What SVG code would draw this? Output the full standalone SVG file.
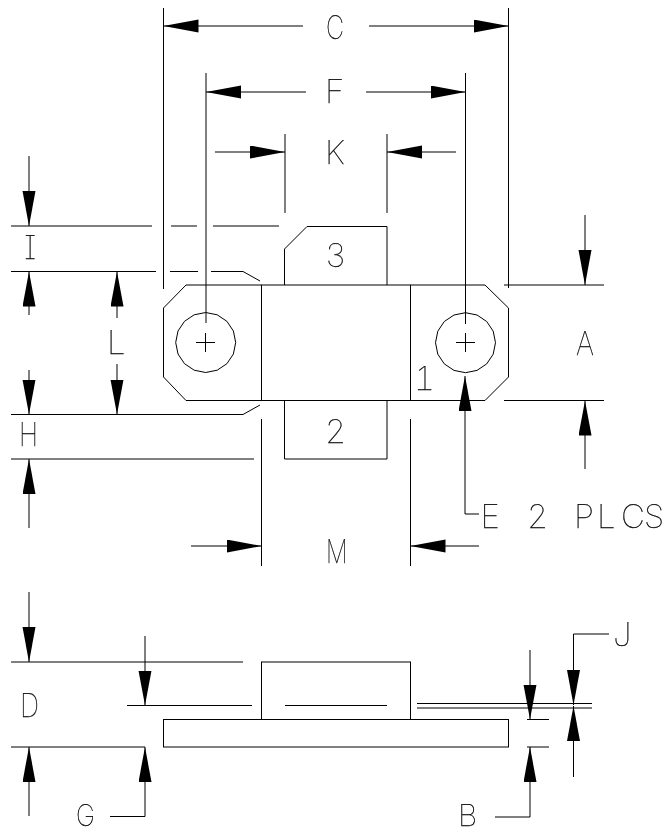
<svg xmlns="http://www.w3.org/2000/svg" width="670" height="833" viewBox="0 0 670 833">
<style>
.s{fill:none;stroke:#000;stroke-width:1}
.d{fill:none;stroke:#000;stroke-width:1;marker-end:url(#a)}
text{font-family:"Inter","Open Sans","Liberation Sans",sans-serif;font-weight:100;font-size:33px;fill:#000;stroke:#000;stroke-width:.25;font-feature-settings:"cv08","tnum"}
.t{font-size:30px}
</style>
<defs>
<filter id="g" x="0" y="0" width="670" height="833" filterUnits="userSpaceOnUse" color-interpolation-filters="sRGB"><feOffset dx="0" dy="0"/></filter>
<marker id="a" markerUnits="userSpaceOnUse" markerWidth="36" markerHeight="14" refX="35" refY="6.5" orient="auto"><path d="M0 0L35 6.5L0 13Z" fill="#000"/></marker>
<polygon id="hole" points="30,0 27.7,11.5 21.2,21.2 11.5,27.7 0,30 -11.5,27.7 -21.2,21.2 -27.7,11.5 -30,0 -27.7,-11.5 -21.2,-21.2 -11.5,-27.7 0,-30 11.5,-27.7 21.2,-21.2 27.7,-11.5" class="s"/>
</defs>
<rect width="670" height="833" fill="#fff"/>
<g id="plan-body">
<path class="s" d="M261.5 285H186L163.5 308V377L186 400.5H261.5Z"/>
<path class="s" d="M410.5 285H485L508.5 308V377L485 400.5H410.5Z"/>
<rect class="s" x="261.5" y="285" width="149" height="115.5"/>
<path class="s" d="M284.5 285V249L307 226.5H387V285"/>
<path class="s" d="M284.5 400.5V459H387V400.5"/>
</g>
<g id="hole-left"><use href="#hole" x="205.7" y="342.5"/><path class="s" d="M196 342.5H215M205.5 333V352"/></g>
<g id="hole-right"><use href="#hole" x="465.5" y="342.7"/><path class="s" d="M456 342.5H475M465.5 333V352"/></g>
<g id="side-body">
<rect class="s" x="261.5" y="662" width="149" height="57.5"/>
<rect class="s" x="163.5" y="719.5" width="345" height="27.5"/>
<path class="s" d="M285 705.5H387"/>
</g>
<g id="connectors">
<path class="s" d="M163.5 8V289M508.5 8V288M206 73V323M465.5 73V324M285 134V213M387 134V213"/>
<path class="s" d="M11 226H152M171 226H197M213 226H279M11 271.5H156M170 271.5H198M211 271.5H243L260 281M11 414.5H243L260 405M11 459H254"/>
<path class="s" d="M261.5 419V566M410.5 419V566M504 285H604M504 400.5H604"/>
<path class="s" d="M11 662H243M127 705.5H252M11 747H145M417 703.5H592M417 708H592M527 719.5H549M527 747H549"/>
<path class="d" d="M303 26H163.5"/><path class="d" d="M369 26H508.5"/>
<path class="d" d="M306 92H206"/><path class="d" d="M366 92H465.5"/>
<path class="d" d="M215 152H285"/><path class="d" d="M456 152H387"/>
<path class="d" d="M29 156V226"/><path class="d" d="M29 315V271.5"/>
<path class="d" d="M29 370V414.5"/><path class="d" d="M29 528V459"/>
<path class="d" d="M117 318V271.5"/><path class="d" d="M117 364V414.5"/>
<path class="d" d="M191 546H261.5"/><path class="d" d="M479 546H410.5"/>
<path class="d" d="M585 215V285"/><path class="d" d="M585 469V400.5"/>
<path class="d" d="M479 514H465V376"/>
<path class="d" d="M29 592V662"/><path class="d" d="M29 816V747"/>
<path class="d" d="M145 636V705.5"/><path class="d" d="M110 816.5H145V747"/>
<path class="d" d="M530 650V719.5"/><path class="d" d="M495 817H530V747"/>
<path class="d" d="M609 634H573.5V705"/><path class="d" d="M573.5 777V706"/>
</g>
<g id="labels" filter="url(#g)">
<text x="326" y="39" textLength="18" lengthAdjust="spacingAndGlyphs">C</text>
<text x="325" y="103">F</text>
<text x="325" y="164">K</text>
<text x="24" y="259">I</text>
<text x="107" y="354">L</text>
<text x="19" y="446" textLength="19" lengthAdjust="spacingAndGlyphs">H</text>
<text x="325" y="267">3</text>
<text x="325" y="443">2</text>
<text x="414" y="390">1</text>
<text x="576" y="355" textLength="18" lengthAdjust="spacingAndGlyphs">A</text>
<text x="326" y="563" textLength="21.5" lengthAdjust="spacingAndGlyphs">M</text>
<text x="480.5 500 527 548 574 597 621 644" y="528">E 2 PLCS</text>
<text x="20" y="717" textLength="19" lengthAdjust="spacingAndGlyphs">D</text>
<text class="t" x="76" y="825.5" textLength="19" lengthAdjust="spacingAndGlyphs">G</text>
<text class="t" x="458" y="825.5">B</text>
<text x="613" y="646">J</text>
</g>
</svg>
